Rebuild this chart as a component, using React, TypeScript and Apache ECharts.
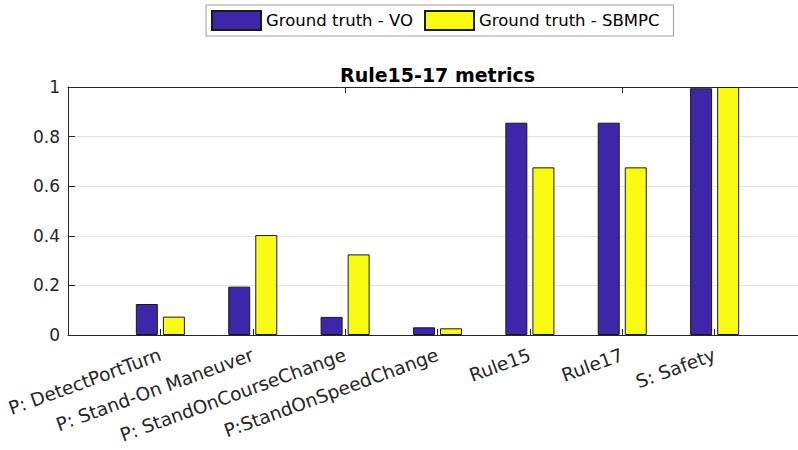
import React, { useEffect, useRef } from "react";
import * as echarts from "echarts";

const categories = [
  "P: DetectPortTurn",
  "P: Stand-On Maneuver",
  "P: StandOnCourseChange",
  "P:StandOnSpeedChange",
  "Rule15",
  "Rule17",
  "S: Safety",
];
const voValues = [0.125, 0.195, 0.073, 0.031, 0.856, 0.856, 0.995];
const sbmpcValues = [0.074, 0.403, 0.325, 0.027, 0.676, 0.676, 1.0];
const seriesNames = ["Ground truth - VO", "Ground truth - SBMPC"];
const yTicks = [0, 0.2, 0.4, 0.6, 0.8, 1];

const FONT = "DejaVu Sans";
const AXIS = "#262626";

export default function App() {
  const ref = useRef<HTMLDivElement>(null);
  useEffect(() => {
    if (!ref.current) return;
    const chart = echarts.init(ref.current, undefined, { renderer: "svg" });
    const axisCats = ["", ...categories, ""];
    const pad = (arr: number[]) => [null, ...arr, null];
    chart.setOption({
      animation: false,
      backgroundColor: "#ffffff",
      title: {
        text: "Rule15-17 metrics",
        left: 335,
        top: 60,
        textStyle: { fontFamily: FONT, fontSize: 19, fontWeight: "bold", color: "#000" },
      },
      legend: {
        left: 206,
        top: 5,
        itemWidth: 49,
        itemHeight: 19,
        itemGap: 11,
        padding: [5, 14, 5, 5],
        borderColor: "#9a9a9a",
        borderWidth: 1,
        backgroundColor: "#fff",
        icon: "rect",
        textStyle: { fontFamily: FONT, fontSize: 16.5, color: "#000" },
        data: seriesNames,
      },
      grid: {
        left: 68,
        width: 739,
        top: 87,
        height: 248,
        containLabel: false,
        outerBoundsMode: "none",
      },
      xAxis: [
        {
          type: "category",
          data: axisCats,
          boundaryGap: false,
          position: "bottom",
          axisLine: { show: true, lineStyle: { color: AXIS, width: 1 } },
          axisTick: { show: true, inside: true, length: 6, lineStyle: { color: AXIS } },
          axisLabel: {
            interval: 0,
            rotate: 20,
            fontFamily: FONT,
            fontSize: 18.5,
            color: AXIS,
            margin: 19,
          },
          splitLine: { show: false },
        },
        {
          type: "category",
          data: axisCats,
          boundaryGap: false,
          position: "top",
          axisLine: { show: true, lineStyle: { color: AXIS, width: 1 } },
          axisTick: { show: true, inside: true, length: 6, lineStyle: { color: AXIS } },
          axisLabel: { show: false },
          splitLine: { show: false },
        },
      ],
      yAxis: {
        type: "value",
        min: yTicks[0],
        max: yTicks[yTicks.length - 1],
        interval: 0.2,
        axisLine: { show: true, lineStyle: { color: AXIS, width: 1 } },
        axisTick: { show: true, inside: true, length: 7, lineStyle: { color: AXIS } },
        axisLabel: { fontFamily: FONT, fontSize: 17, color: AXIS, margin: 8 },
        splitLine: { show: true, lineStyle: { color: "#e3e3e3", width: 1 } },
      },
      series: [
        {
          name: seriesNames[0],
          type: "bar",
          data: pad(voValues),
          barWidth: 22,
          barGap: "23%",
          itemStyle: { color: "#3e26a8", borderColor: "#1a1a1a", borderWidth: 1 },
        },
        {
          name: seriesNames[1],
          type: "bar",
          data: pad(sbmpcValues),
          barWidth: 22,
          itemStyle: { color: "#f9fb15", borderColor: "#1a1a1a", borderWidth: 1 },
        },
      ],
    });
    return () => chart.dispose();
  }, []);
  return (
    <div
      ref={ref}
      style={{ position: "fixed", left: 0, top: 0, width: 798, height: 450, background: "#fff" }}
    />
  );
}
